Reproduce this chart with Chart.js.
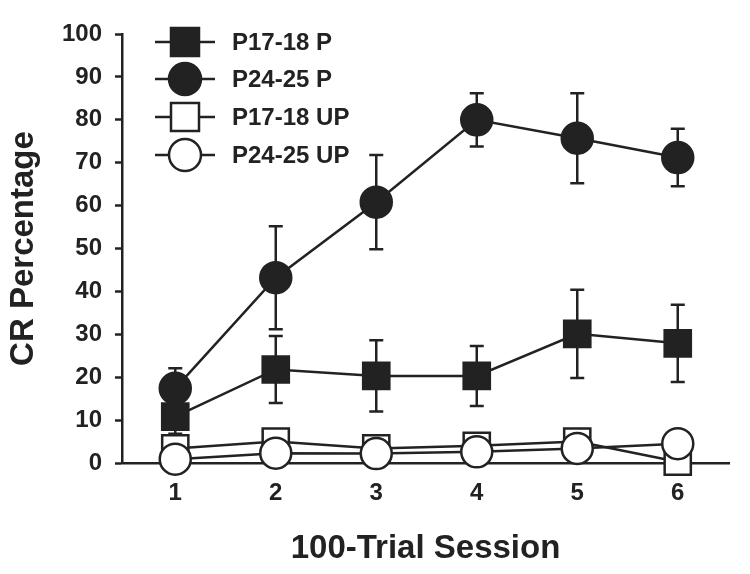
<!DOCTYPE html>
<html>
<head>
<meta charset="utf-8">
<script src="https://cdn.jsdelivr.net/npm/chart.js@4"></script>
<style>
  html, body { margin: 0; padding: 0; background: #fff; }
  #wrap { width: 750px; height: 574px; }
</style>
</head>
<body>
<div id="wrap"><canvas id="chart" width="750" height="574"></canvas></div>
<script>
var sessions = [1, 2, 3, 4, 5, 6];
var yTicks = [0, 10, 20, 30, 40, 50, 60, 70, 80, 90, 100];

var p1718P = [10.8, 21.8, 20.3, 20.3, 30.1, 27.9];
var p1718PErr = [4, 7.8, 8.3, 7, 10.3, 9];
var p2425P = [17.4, 43.2, 60.8, 80, 75.7, 71.2];
var p2425PErr = [4.7, 12, 11, 6.2, 10.5, 6.7];
var p1718UP = [3.4, 5, 3.4, 4, 5, 0.3];
var p1718UPErr = [1, 1.5, 1, 1, 1.5, 0.5];
var p2425UP = [0.9, 2.3, 2.2, 2.6, 3.4, 4.5];
var p2425UPErr = [0.5, 1, 0.8, 1, 1.2, 1];

var ink = "#222";
var font = "'Liberation Sans', Arial, sans-serif";

function pts(vals) {
    return sessions.map(function (s, i) { return { x: s, y: vals[i] }; });
}

function series(label, vals, errs, style, filled, order) {
    return {
        label: label,
        data: pts(vals),
        errors: errs,
        borderColor: ink,
        borderWidth: 2.5,
        pointStyle: style,
        pointRadius: style === "rect" ? 18.5 : 15.5,
        pointBorderWidth: 2.5,
        pointBorderColor: ink,
        pointBackgroundColor: filled ? ink : "#fff",
        backgroundColor: filled ? ink : "#fff",
        fill: false,
        tension: 0,
        clip: false,
        order: order
    };
}

var datasets = [
    series("P17-18 P", p1718P, p1718PErr, "rect", true, 1),
    series("P24-25 P", p2425P, p2425PErr, "circle", true, 2),
    series("P17-18 UP", p1718UP, p1718UPErr, "rect", false, 3),
    series("P24-25 UP", p2425UP, p2425UPErr, "circle", false, 0)
];

// error bars, drawn under the markers
var errorBars = {
    id: "errorBars",
    beforeDatasetsDraw: function (chart) {
        var ctx = chart.ctx;
        var xs = chart.scales.x, ys = chart.scales.y;
        ctx.save();
        ctx.strokeStyle = ink;
        ctx.lineWidth = 2.5;
        chart.data.datasets.forEach(function (ds) {
            ds.data.forEach(function (p, i) {
                var e = ds.errors[i];
                var px = xs.getPixelForValue(p.x);
                var top = ys.getPixelForValue(p.y + e);
                var bot = ys.getPixelForValue(Math.max(p.y - e, 0));
                ctx.beginPath();
                ctx.moveTo(px, top); ctx.lineTo(px, bot);
                ctx.moveTo(px - 7, top); ctx.lineTo(px + 7, top);
                ctx.moveTo(px - 7, bot); ctx.lineTo(px + 7, bot);
                ctx.stroke();
            });
        });
        ctx.restore();
    }
};

// legend with a line through each marker, top left inside the plot
var lineLegend = {
    id: "lineLegend",
    afterDraw: function (chart) {
        var ctx = chart.ctx;
        var x0 = 155, x1 = 215, cx = 185, tx = 232;
        var rows = [42, 79, 117, 155];
        ctx.save();
        ctx.font = "bold 24px " + font;
        ctx.textBaseline = "middle";
        chart.data.datasets.forEach(function (ds, i) {
            var y = rows[i];
            ctx.strokeStyle = ink;
            ctx.lineWidth = 2.5;
            ctx.beginPath();
            ctx.moveTo(x0, y); ctx.lineTo(x1, y);
            ctx.stroke();
            ctx.beginPath();
            if (ds.pointStyle === "rect") {
                ctx.rect(cx - 14, y - 14, 28, 28);
            } else {
                ctx.arc(cx, y, 16, 0, Math.PI * 2);
            }
            ctx.fillStyle = ds.pointBackgroundColor;
            ctx.fill();
            ctx.stroke();
            ctx.fillStyle = ink;
            ctx.fillText(ds.label, tx, y + 1);
        });
        ctx.restore();
    }
};

new Chart(document.getElementById("chart"), {
    type: "line",
    data: { datasets: datasets },
    options: {
        responsive: false,
        animation: false,
        layout: { padding: { left: 0, right: 5, top: 34, bottom: 0 } },
        plugins: { legend: { display: false }, tooltip: { enabled: false } },
        scales: {
            x: {
                type: "linear",
                min: 0.47,
                max: 6.51,
                afterBuildTicks: function (s) { s.ticks = sessions.map(function (v) { return { value: v }; }); },
                afterFit: function (s) { s.height = 111; },
                grid: { drawOnChartArea: false, drawTicks: false },
                border: { color: ink, width: 2.5 },
                ticks: { color: ink, padding: 16, font: { family: font, size: 24, weight: "bold" } },
                title: {
                    display: true,
                    text: "100-Trial Session",
                    color: ink,
                    padding: { top: 0, bottom: 5 },
                    font: { family: font, size: 33, weight: "bold" }
                }
            },
            y: {
                min: 0,
                max: 100,
                afterBuildTicks: function (s) { s.ticks = yTicks.map(function (v) { return { value: v }; }); },
                afterFit: function (s) { s.width = 122; },
                grid: { drawOnChartArea: false, drawTicks: true, tickLength: 7, tickColor: ink, tickWidth: 2.5 },
                border: { color: ink, width: 2.5 },
                ticks: { color: ink, padding: 13, font: { family: font, size: 24, weight: "bold" } },
                title: {
                    display: true,
                    text: "CR Percentage",
                    color: ink,
                    padding: { top: 4, bottom: 0 },
                    font: { family: font, size: 33, weight: "bold" }
                }
            }
        }
    },
    plugins: [errorBars, lineLegend]
});
</script>
</body>
</html>
